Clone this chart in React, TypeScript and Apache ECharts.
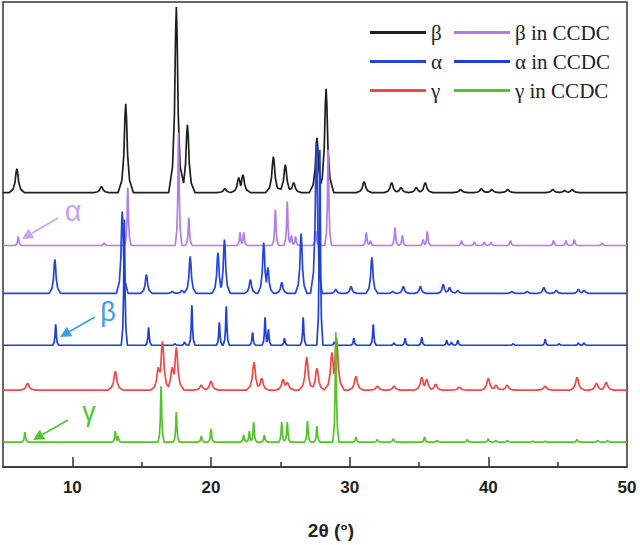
import React, { useEffect, useRef } from 'react';
import * as echarts from 'echarts';

// ---- axis ----
const X_MIN = 5;
const X_MAX = 50;
const X_LABEL_TICKS = [10, 20, 30, 40, 50];
const X_MAJOR_TICKS = [10, 20, 30, 40];
const X_MINOR_TICKS = [15, 25, 35, 45];
const Y_MAX = 466;

// ---- series: baseline (offset) and peaks [2θ, apex] ----
const SERIES_NAMES = ['β', 'β in CCDC', 'α', 'α in CCDC', 'γ', 'γ in CCDC'];

const BETA_BASE = 275;
const BETA_PEAKS = [
  [6.0, 299], [12.1, 281], [13.85, 364], [17.5, 461], [18.3, 343], [21.0, 279],
  [22.0, 290], [22.3, 293], [24.5, 311], [25.36, 303], [25.96, 285], [27.64, 330],
  [28.3, 379], [31.04, 286], [33.03, 285], [33.7, 280], [34.8, 280], [35.45, 285],
  [38.0, 278], [39.5, 279], [40.25, 278], [41.4, 278], [44.65, 278], [45.5, 277], [46.05, 278],
];

const BETA_CCDC_BASE = 222;
const BETA_CCDC_PEAKS = [
  [6.1, 231], [12.3, 225], [14.0, 280], [17.66, 335], [18.4, 250], [22.1, 235],
  [22.36, 235], [24.64, 258], [25.5, 266], [25.8, 232], [26.1, 231], [27.57, 236],
  [28.45, 318], [31.2, 235], [31.5, 227], [33.27, 240], [33.8, 232], [35.3, 228],
  [35.6, 236], [38.07, 227], [39.0, 226], [39.7, 226], [40.2, 226], [41.6, 227],
  [44.7, 227], [45.6, 227], [46.2, 228], [48.2, 225],
];

const ALPHA_BASE = 174;
const ALPHA_PEAKS = [
  [8.74, 208], [13.6, 256], [15.34, 193], [17.2, 176], [17.9, 177], [18.5, 211],
  [20.5, 215], [20.97, 228], [22.84, 188], [23.8, 225], [24.1, 200], [25.1, 185],
  [26.5, 234], [27.6, 325], [29.0, 178], [30.1, 181], [31.6, 210], [33.1, 176],
  [33.87, 181], [35.1, 181], [36.75, 183], [37.2, 180], [37.8, 177], [41.7, 176],
  [42.8, 176], [44.0, 180], [44.9, 177], [46.5, 178], [46.9, 177],
];

const ALPHA_CCDC_BASE = 122;
const ALPHA_CCDC_PEAKS = [
  [8.8, 143], [13.75, 248], [15.5, 140], [17.4, 124], [18.1, 126], [18.62, 162],
  [20.6, 145], [21.1, 161], [23.0, 135], [23.9, 150], [24.14, 138], [25.3, 129],
  [26.65, 150], [27.85, 318], [28.9, 126], [30.3, 129], [31.7, 143], [33.2, 125],
  [34.0, 129], [35.2, 130], [37.0, 127], [37.35, 126], [37.8, 127], [41.8, 124],
  [44.1, 128], [45.1, 124], [46.5, 125], [46.9, 125],
];

const GAMMA_BASE = 77;
const GAMMA_PEAKS = [
  [6.78, 84], [13.1, 96], [16.2, 100], [16.5, 126], [17.2, 100], [17.5, 120],
  [19.3, 82], [20.0, 86], [23.1, 105], [23.65, 89], [25.2, 88], [25.5, 85],
  [26.9, 110], [27.64, 99], [28.72, 115], [29.05, 130], [30.45, 91], [32.0, 81],
  [33.2, 81], [35.2, 90], [35.55, 88], [36.2, 83], [37.9, 80], [40.0, 89],
  [40.55, 82], [41.35, 82], [44.1, 81], [46.4, 90], [47.8, 84], [48.5, 85],
];

const GAMMA_CCDC_BASE = 25;
const GAMMA_CCDC_PEAKS = [
  [6.58, 35], [13.1, 36], [13.3, 31], [16.4, 81], [17.5, 55], [19.3, 31],
  [20.0, 38], [22.36, 32], [22.77, 36], [23.08, 45], [23.85, 32], [25.1, 45],
  [25.5, 45], [26.96, 46], [27.64, 41], [29.0, 135], [30.45, 30], [32.0, 28],
  [33.15, 29], [35.4, 30], [36.3, 27], [38.5, 28], [40.0, 29], [40.55, 27],
  [41.4, 27], [43.2, 26], [44.1, 26], [46.4, 28], [47.9, 27], [48.6, 27],
];

const COLORS = ['#1e1e1e', '#b07ee8', '#2444dc', '#1f3fd8', '#f04848', '#52c42a'];
const HALF_WIDTHS = [0.55, 0.24, 0.42, 0.22, 0.55, 0.22];

// peak outline: [offset in half-widths, fraction of height]
const SHAPE = [[-1, 0], [-0.5, 0.14], [-0.25, 0.42], [-0.1, 0.85], [0, 1], [0.1, 0.85], [0.25, 0.42], [0.5, 0.14], [1, 0]];

function profileAt(d: number): number {
  for (let i = 0; i < SHAPE.length - 1; i++) {
    const [o1, f1] = SHAPE[i];
    const [o2, f2] = SHAPE[i + 1];
    if (d >= o1 && d <= o2) return f1 + ((f2 - f1) * (d - o1)) / (o2 - o1);
  }
  return 0;
}

function buildPattern(base: number, peaks: number[][], hw: number): number[][] {
  const xs = new Set<number>([X_MIN, X_MAX]);
  peaks.forEach(([p]) => SHAPE.forEach(([o]) => xs.add(+(p + o * hw).toFixed(4))));
  const sorted = [...xs].filter((x) => x >= X_MIN && x <= X_MAX).sort((a, b) => a - b);
  return sorted.map((x) => {
    let y = base;
    for (const [p, top] of peaks) {
      const d = (x - p) / hw;
      if (d <= -1 || d >= 1) continue;
      y = Math.max(y, base + (top - base) * profileAt(d));
    }
    return [x, +y.toFixed(2)];
  });
}

function arrow(tail: number[], tip: number[], color: string) {
  const dx = tip[0] - tail[0];
  const dy = tip[1] - tail[1];
  const len = Math.hypot(dx, dy);
  const ux = dx / len;
  const uy = dy / len;
  const hl = 11;
  const hw = 5.5;
  const bx = tip[0] - ux * hl;
  const by = tip[1] - uy * hl;
  return [
    { type: 'line', shape: { x1: tail[0], y1: tail[1], x2: bx, y2: by }, style: { stroke: color, lineWidth: 1.6 } },
    {
      type: 'polygon',
      shape: { points: [[tip[0], tip[1]], [bx - uy * hw, by + ux * hw], [bx + uy * hw, by - ux * hw]] },
      style: { fill: color },
    },
  ];
}

export default function App() {
  const ref = useRef<HTMLDivElement>(null);

  useEffect(() => {
    if (!ref.current) return;
    const chart = echarts.init(ref.current, undefined, { renderer: 'svg' });

    const patterns = [
      buildPattern(BETA_BASE, BETA_PEAKS, HALF_WIDTHS[0]),
      buildPattern(BETA_CCDC_BASE, BETA_CCDC_PEAKS, HALF_WIDTHS[1]),
      buildPattern(ALPHA_BASE, ALPHA_PEAKS, HALF_WIDTHS[2]),
      buildPattern(ALPHA_CCDC_BASE, ALPHA_CCDC_PEAKS, HALF_WIDTHS[3]),
      buildPattern(GAMMA_BASE, GAMMA_PEAKS, HALF_WIDTHS[4]),
      buildPattern(GAMMA_CCDC_BASE, GAMMA_CCDC_PEAKS, HALF_WIDTHS[5]),
    ];

    const legendCommon = {
      orient: 'vertical',
      top: 17,
      itemGap: 8,
      itemWidth: 56,
      itemHeight: 3,
      icon: 'rect',
      textStyle: { fontFamily: 'Liberation Serif', fontSize: 21, color: '#222', lineHeight: 21 },
    };

    chart.setOption({
      animation: false,
      backgroundColor: '#fff',
      grid: { left: 3, right: 13, top: 2, bottom: 77, show: true, borderColor: '#333', borderWidth: 1.5 },
      legend: [
        { ...legendCommon, left: 365, data: [SERIES_NAMES[0], SERIES_NAMES[2], SERIES_NAMES[4]] },
        { ...legendCommon, left: 449, data: [SERIES_NAMES[1], SERIES_NAMES[3], SERIES_NAMES[5]] },
      ],
      xAxis: [
        {
          type: 'value',
          min: X_MIN,
          max: X_MAX,
          interval: 5,
          splitLine: { show: false },
          axisLine: { lineStyle: { color: '#333', width: 1.5 } },
          axisTick: { inside: true, length: 10, customValues: X_MAJOR_TICKS, lineStyle: { color: '#333', width: 1.5 } },
          axisLabel: {
            customValues: X_LABEL_TICKS,
            margin: 12,
            fontFamily: 'Liberation Sans',
            fontWeight: 'bold',
            fontSize: 17,
            color: '#222',
          },
          name: '2θ (°)',
          nameLocation: 'middle',
          nameGap: 54,
          nameTextStyle: {
            fontFamily: 'Liberation Sans',
            fontWeight: 'bold',
            fontSize: 19,
            color: '#222',
            padding: [0, 0, 0, 32],
          },
        },
        {
          type: 'value',
          min: X_MIN,
          max: X_MAX,
          interval: 5,
          position: 'bottom',
          splitLine: { show: false },
          axisLine: { show: false },
          axisLabel: { show: false },
          axisTick: { inside: true, length: 5, customValues: X_MINOR_TICKS, lineStyle: { color: '#333', width: 1.5 } },
        },
      ],
      yAxis: { type: 'value', min: 0, max: Y_MAX, show: false },
      series: SERIES_NAMES.map((name, i) => ({
        name,
        type: 'line',
        data: patterns[i],
        symbol: 'none',
        showSymbol: false,
        color: COLORS[i],
        lineStyle: { color: COLORS[i], width: 1.7 },
        z: 2 + i,
      })),
      graphic: [
        { type: 'text', x: 73, y: 211, style: { text: 'α', fill: '#c9a2f0', fontSize: 29, fontFamily: 'Liberation Sans', align: 'center', verticalAlign: 'middle' } },
        ...arrow([58, 218], [22, 239], '#c9a2f0'),
        { type: 'text', x: 108, y: 312, style: { text: 'β', fill: '#3aa0e6', fontSize: 27, fontFamily: 'Liberation Sans', align: 'center', verticalAlign: 'middle' } },
        ...arrow([95, 317], [60, 337], '#3aa0e6'),
        { type: 'text', x: 89, y: 412, style: { text: 'γ', fill: '#48cc2a', fontSize: 27, fontFamily: 'Liberation Sans', align: 'center', verticalAlign: 'middle' } },
        ...arrow([68, 420], [33, 440], '#48cc2a'),
      ],
    });

    return () => chart.dispose();
  }, []);

  return <div ref={ref} style={{ position: 'fixed', left: 0, top: 0, width: 640, height: 545 }} />;
}
